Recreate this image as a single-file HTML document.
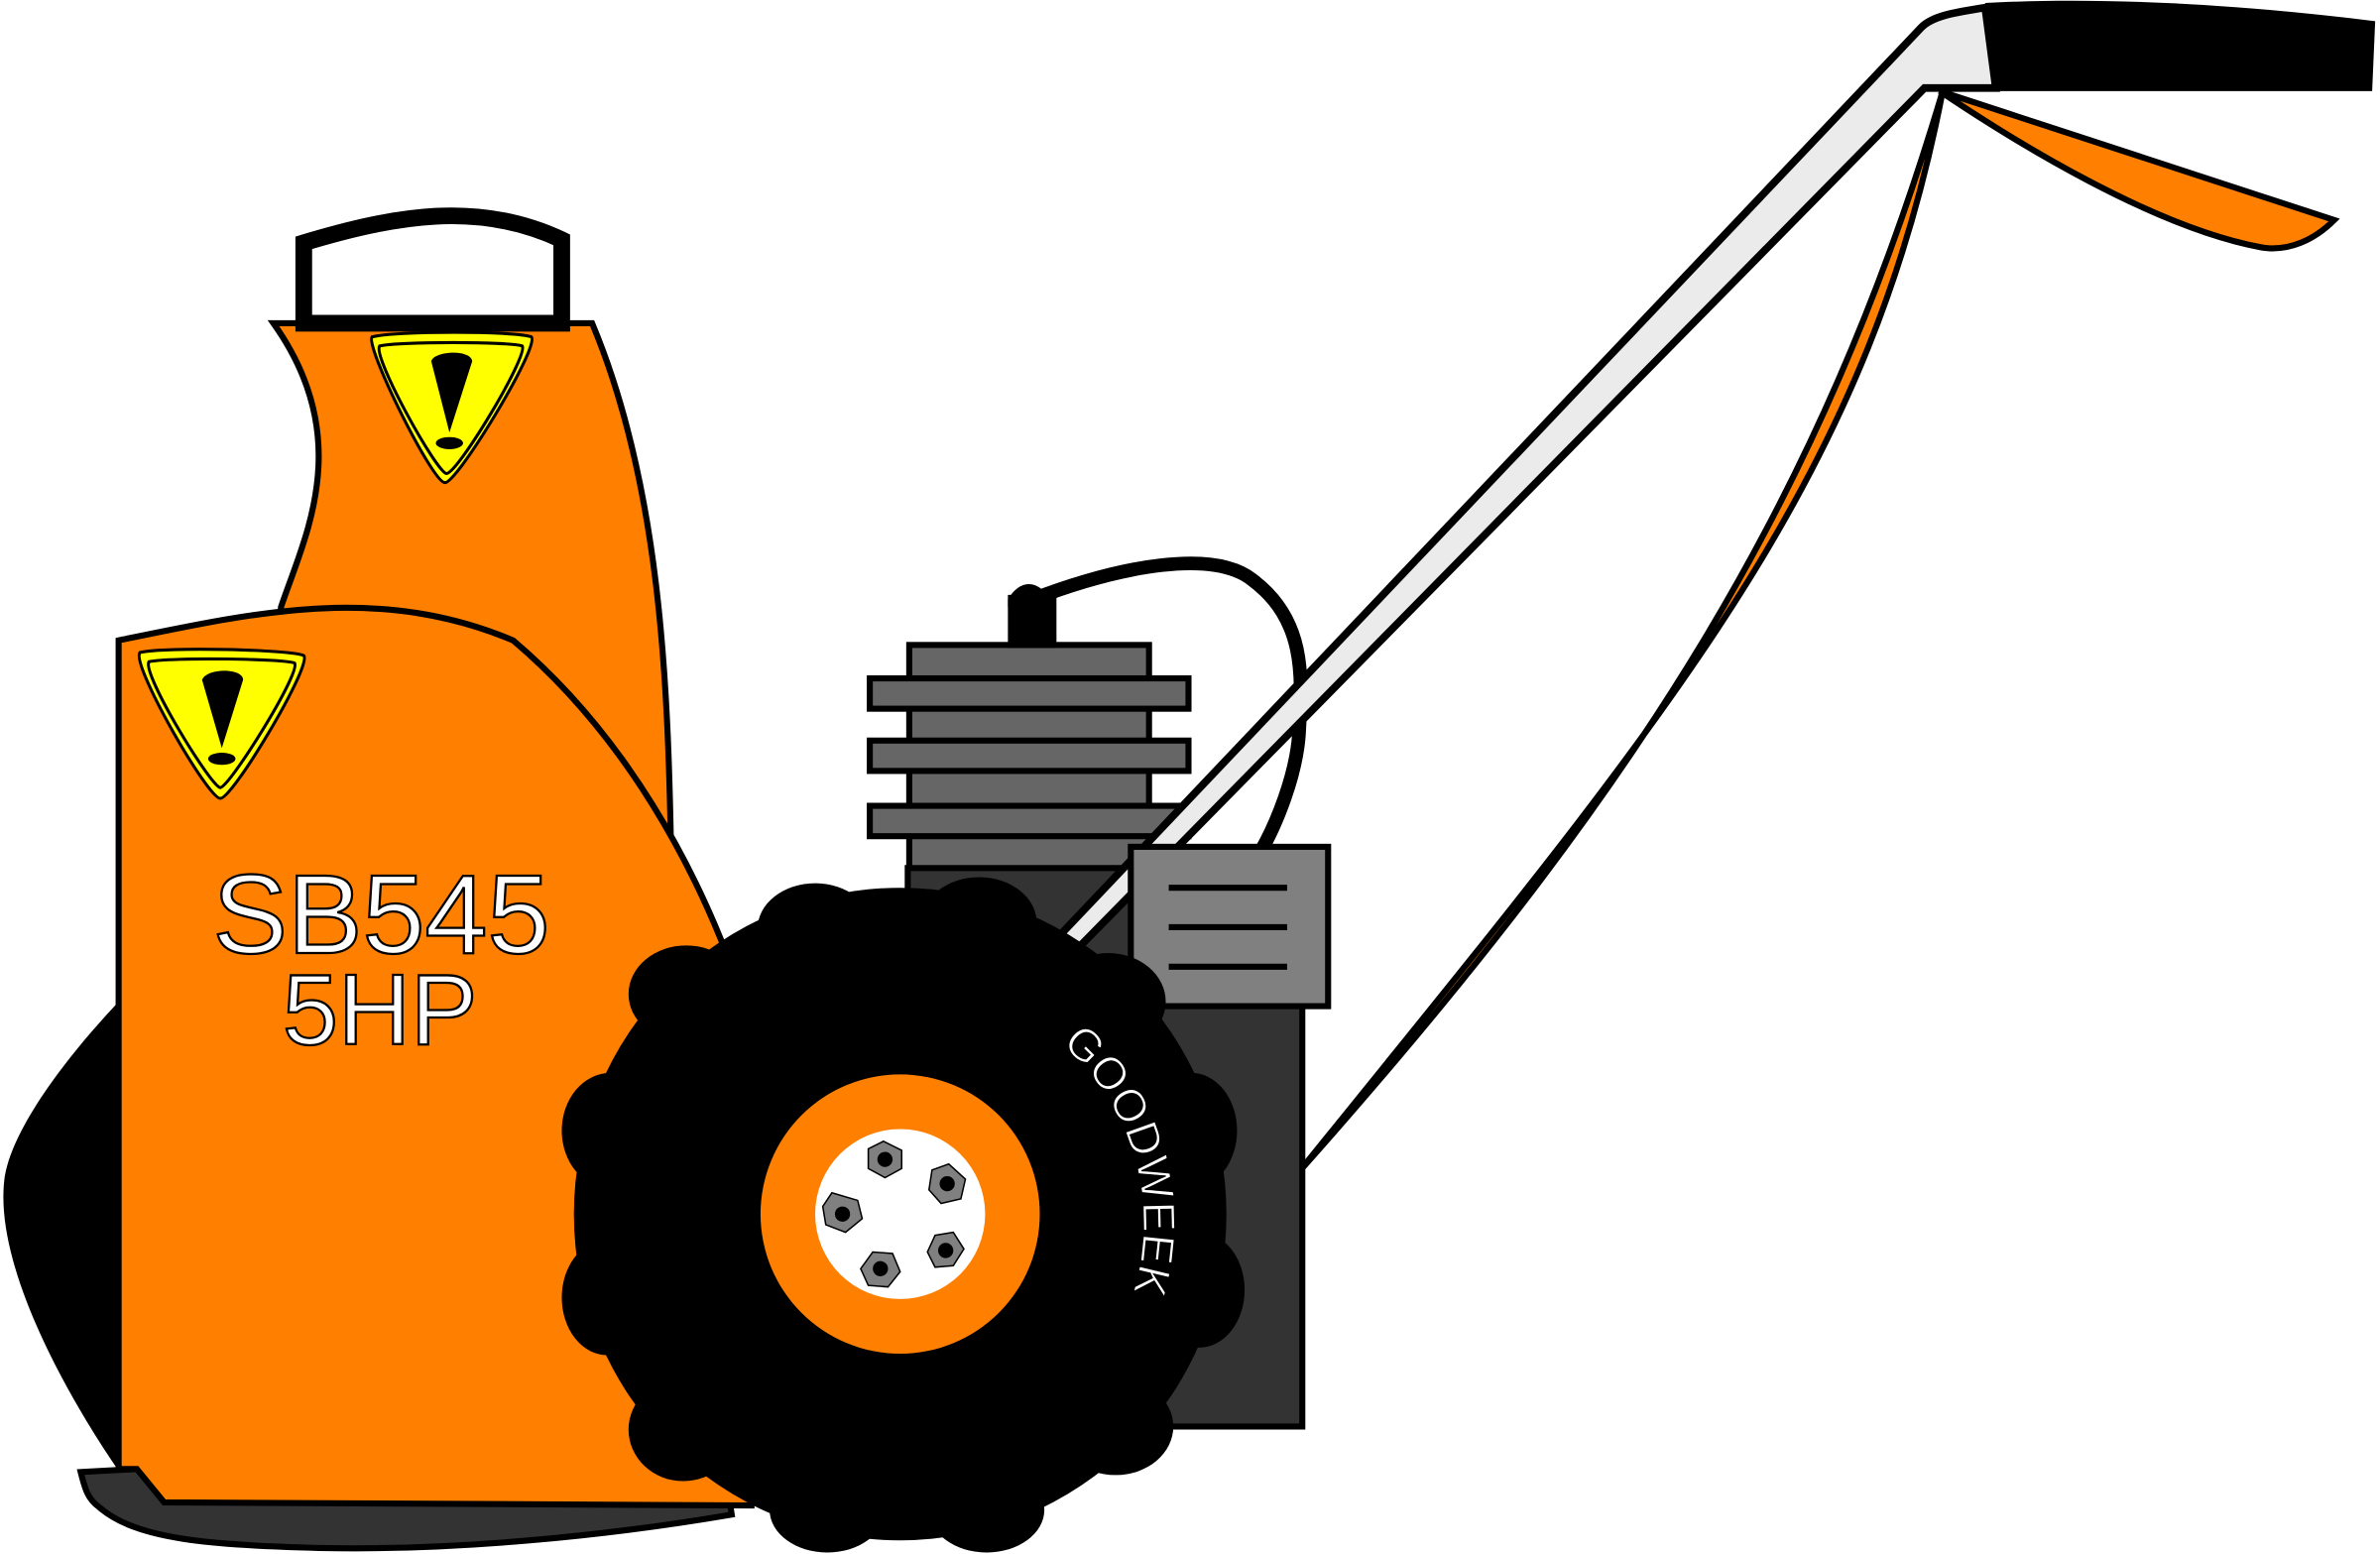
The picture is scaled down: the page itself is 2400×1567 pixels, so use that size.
<!DOCTYPE html>
<html><head><meta charset="utf-8"><style>html,body{margin:0;padding:0;background:#fff}svg{display:block}</style></head>
<body>
<svg width="2400" height="1567" viewBox="0 0 1568 1024" xmlns="http://www.w3.org/2000/svg">
<path d="M80,658 C40,700 8,745 3,775 C-8,850 80,972 80,972 Z" fill="#000"/>
<path d="M1280,60 C1200,330 1080,520 856,772 C1100,470 1230,320 1280,60 Z" fill="#ff8000" stroke="#000" stroke-width="4"/>
<path d="M1278,60 L1538,145 C1525,158 1508,166 1490,163 C1420,150 1330,95 1278,60 Z" fill="#ff8000" stroke="#000" stroke-width="4"/>
<path d="M180,213 L390,213 C435,320 440,450 442,560 L440,800 L150,800 L185,400 C200,355 235,290 180,213 Z" fill="#ff8000" stroke="#000" stroke-width="4"/>
<path d="M200,160 C260,142 315,132 370,158 L370,213 L200,213 Z" fill="#fff" stroke="#000" stroke-width="11"/>
<path d="M245,222 C260,218 340,218 350,222 C356,228 300,320 293,318 C286,320 240,228 245,222 Z" fill="#ff0" stroke="#000" stroke-width="2"/>
<path d="M250,228 C262,225 336,225 344,228 C348,235 300,314 294,312 C288,312 245,235 250,228 Z" fill="none" stroke="#000" stroke-width="2"/>
<path d="M284,238 C286,231 310,230 311,238 L296,285 Z" fill="#000"/><ellipse cx="296" cy="292" rx="9" ry="4" fill="#000"/>
<g fill="#666" stroke="#000" stroke-width="4">
<rect x="599" y="425" width="158" height="150"/>
<rect x="573" y="447" width="210" height="20"/>
<rect x="573" y="488" width="210" height="20"/>
<rect x="573" y="531" width="210" height="20"/>
</g>
<rect x="598" y="572" width="260" height="368" fill="#333" stroke="#000" stroke-width="4"/>
<path d="M680,395 C740,372 800,362 825,382 C860,408 858,445 856,480 C855,510 840,545 830,562" fill="none" stroke="#000" stroke-width="9"/>
<rect x="664" y="392" width="32" height="35" fill="#000"/>
<path d="M664,395 C670,385 678,382 686,388 L664,400Z" fill="#000"/>
<path d="M1308,5 C1290,8 1274,10 1266,18 L690,625 L710,625 L1268,58 L1315,58 Z" fill="#ebebeb" stroke="#000" stroke-width="5"/>
<path d="M1308,2 C1380,-2 1470,2 1565,14 L1563,60 L1315,60 Z" fill="#000"/>
<rect x="745" y="558" width="130" height="105" fill="#808080" stroke="#000" stroke-width="4"/>
<line x1="770" y1="585" x2="848" y2="585" stroke="#000" stroke-width="4"/>
<line x1="770" y1="611" x2="848" y2="611" stroke="#000" stroke-width="4"/>
<line x1="770" y1="637" x2="848" y2="637" stroke="#000" stroke-width="4"/>
<path d="M53,970 C56,982 58,988 65,993 C90,1015 140,1018 210,1020 C300,1022 400,1012 482,998 L480,985 L90,968 Z" fill="#333" stroke="#000" stroke-width="4"/>
<path d="M78,422 C170,403 250,385 338,422 C410,483 460,570 490,660 L495,992 L108,990 L90,968 L78,968 Z" fill="#ff8000" stroke="#000" stroke-width="4"/>
<path d="M92,430 C108,426 192,428 200,432 C206,438 152,528 145,526 C138,528 86,438 92,430 Z" fill="#ff0" stroke="#000" stroke-width="2"/>
<path d="M98,436 C112,433 188,434 194,437 C198,444 150,520 145,519 C140,520 93,444 98,436 Z" fill="none" stroke="#000" stroke-width="2"/>
<path d="M133,448 C136,440 160,440 160,448 L146,493 Z" fill="#000"/><ellipse cx="146" cy="500" rx="9" ry="4" fill="#000"/>
<text x="140" y="628" font-family="Liberation Sans, sans-serif" font-size="74" fill="#fff" stroke="#000" stroke-width="1.5">SB545</text>
<text x="186" y="688" font-family="Liberation Sans, sans-serif" font-size="66" fill="#fff" stroke="#000" stroke-width="1.5">5HP</text>
<g fill="#000">
<circle cx="593" cy="800" r="215"/>
<ellipse cx="537" cy="612" rx="38" ry="30"/>
<ellipse cx="645" cy="608" rx="38" ry="30"/>
<ellipse cx="452" cy="655" rx="38" ry="32"/>
<ellipse cx="730" cy="660" rx="38" ry="32"/>
<ellipse cx="402" cy="745" rx="32" ry="38"/>
<ellipse cx="785" cy="745" rx="30" ry="38"/>
<ellipse cx="400" cy="855" rx="30" ry="38"/>
<ellipse cx="790" cy="850" rx="30" ry="38"/>
<ellipse cx="450" cy="942" rx="36" ry="34"/>
<ellipse cx="735" cy="940" rx="38" ry="32"/>
<ellipse cx="545" cy="995" rx="38" ry="28"/>
<ellipse cx="650" cy="995" rx="38" ry="28"/>
</g>
<circle cx="593" cy="800" r="92" fill="#ff8000"/>
<circle cx="593" cy="800" r="56" fill="#fff"/>
<g fill="#808080" stroke="#000" stroke-width="1">
<polygon points="582,752 594,758 594,770 583,776 572,770 572,757"/>
<polygon points="625,767 636,777 633,790 620,793 612,784 614,771"/>
<polygon points="548,786 565,791 568,803 557,812 544,807 542,795"/>
<polygon points="575,825 588,826 593,838 585,848 572,847 567,836"/>
<polygon points="616,814 628,812 635,823 628,834 616,835 611,825"/>
</g>
<g fill="#000"><circle cx="583" cy="764" r="5"/><circle cx="624" cy="780" r="5"/><circle cx="555" cy="800" r="5"/><circle cx="580" cy="836" r="5"/><circle cx="623" cy="824" r="5"/></g>
<path id="arc" d="M699,688 A155,155 0 0 1 725,895" fill="none"/>
<text font-family="Liberation Sans, sans-serif" font-size="30" fill="#fff" stroke="#000" stroke-width="0.8" letter-spacing="0"><textPath href="#arc">GOODWEEK</textPath></text>
</svg>
</body></html>
